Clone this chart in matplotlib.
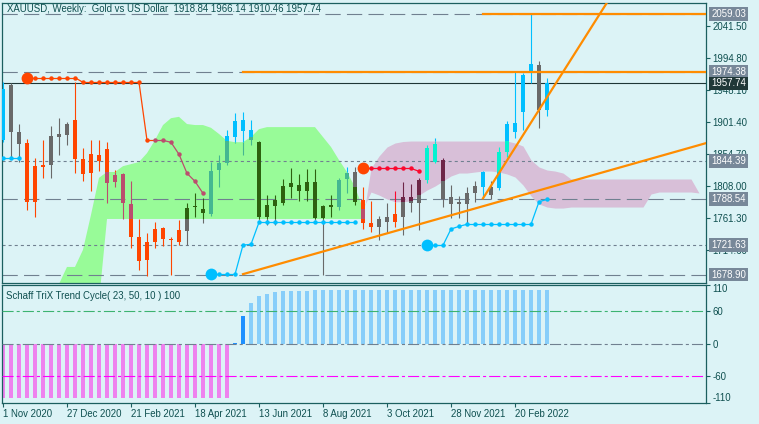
import numpy as np
import matplotlib.pyplot as plt
from matplotlib.transforms import blended_transform_factory

plt.rcParams['font.family'] = ['Liberation Sans', 'DejaVu Sans']
plt.rcParams['lines.scale_dashes'] = False

title = "XAUUSD, Weekly:  Gold vs US Dollar  1918.84 1966.14 1910.46 1957.74"
stc_title = "Schaff TriX Trend Cycle( 23, 50, 10 ) 100"

date_bars = [0, 8, 16, 24, 32, 40, 48, 56, 64]
date_labels = ["1 Nov 2020", "27 Dec 2020", "21 Feb 2021", "18 Apr 2021", "13 Jun 2021",
               "8 Aug 2021", "3 Oct 2021", "28 Nov 2021", "20 Feb 2022"]

# weekly candles, one per bar
opens = [1875.2, 1955.4, 1886.8, 1871.2, 1785.1, 1839.1, 1839.1, 1879.1, 1882.5, 1904.4,
         1847.9, 1827.4, 1853.3, 1862.0, 1814.3, 1825.5, 1781.8, 1734.1, 1700.1, 1726.3,
         1746.7, 1730.7, 1726.8, 1742.8, 1776.9, 1774.5, 1767.2, 1831.4, 1841.6, 1880.0,
         1888.7, 1875.2, 1872.7, 1763.5, 1778.8, 1783.7, 1806.1, 1809.5, 1801.2, 1814.3,
         1760.9, 1780.3, 1777.8, 1817.8, 1828.9, 1787.6, 1754.5, 1748.6, 1755.9, 1767.2,
         1763.2, 1792.4, 1782.8, 1816.8, 1843.5, 1846.0, 1781.8, 1785.1, 1781.8, 1798.2,
         1807.0, 1806.6, 1804.7, 1858.1, 1887.3, 1916.4, 1972.5, 1984.6, 1918.84]
highs = [1960.0, 1957.9, 1898.5, 1876.6, 1849.3, 1875.2, 1895.6, 1906.8, 1901.9, 1960.2,
         1863.5, 1875.2, 1875.2, 1872.2, 1831.4, 1827.0, 1815.3, 1759.9, 1739.0, 1755.5,
         1749.0, 1734.1, 1758.4, 1782.8, 1797.4, 1790.1, 1843.5, 1853.3, 1889.7, 1914.1,
         1916.0, 1904.4, 1874.2, 1794.9, 1794.9, 1817.8, 1833.8, 1825.5, 1832.4, 1832.4,
         1779.9, 1794.9, 1819.7, 1835.3, 1835.7, 1807.0, 1786.2, 1764.3, 1782.8, 1801.2,
         1814.3, 1810.9, 1819.7, 1867.9, 1877.7, 1848.4, 1809.5, 1793.4, 1807.0, 1815.3,
         1830.6, 1815.3, 1865.4, 1903.3, 1974.4, 1972.9, 2059.03, 1990.4, 1966.14]
lows = [1872.0, 1848.9, 1843.0, 1773.0, 1762.4, 1819.3, 1819.3, 1853.3, 1867.9, 1827.4,
        1815.8, 1801.2, 1830.3, 1783.7, 1807.0, 1759.4, 1717.1, 1685.5, 1676.5, 1717.1,
        1720.9, 1677.7, 1721.9, 1721.9, 1763.2, 1754.5, 1764.3, 1807.0, 1838.7, 1870.8,
        1853.3, 1867.9, 1758.4, 1751.1, 1751.1, 1780.3, 1790.1, 1786.6, 1786.6, 1758.4,
        1678.9, 1763.2, 1773.0, 1797.4, 1780.3, 1744.9, 1740.9, 1729.2, 1739.5, 1748.6,
        1736.5, 1770.5, 1743.8, 1812.0, 1841.1, 1777.8, 1760.9, 1760.9, 1751.1, 1785.1,
        1790.1, 1788.6, 1802.2, 1850.8, 1877.7, 1889.7, 1957.9, 1893.1, 1910.46]
closes = [1949.6, 1887.3, 1869.3, 1785.1, 1837.6, 1836.2, 1881.0, 1883.9, 1898.5, 1847.0,
          1826.0, 1854.7, 1844.1, 1812.8, 1823.6, 1783.7, 1734.1, 1699.0, 1726.3, 1745.3,
          1730.7, 1729.2, 1743.8, 1775.9, 1777.8, 1768.2, 1829.9, 1842.3, 1881.0, 1902.9,
          1904.4, 1889.7, 1762.4, 1780.3, 1787.6, 1808.0, 1812.8, 1801.2, 1813.4, 1760.9,
          1778.8, 1776.9, 1816.8, 1827.4, 1785.1, 1753.6, 1748.6, 1759.9, 1763.2, 1755.9,
          1792.4, 1782.8, 1816.8, 1863.0, 1869.3, 1788.6, 1792.4, 1781.3, 1798.2, 1808.0,
          1828.9, 1794.9, 1858.1, 1898.5, 1900.4, 1970.0, 1986.0, 1918.9, 1957.74]
# candle colour state: c = blue, g = grey, r = red
trend = ("c g g r r r g g g r "
         "r r r r r r r r r r "
         "r r r g g g c c c c "
         "c c g g g g g g g g "
         "g g c c g r r g g r "
         "g g g c c g g g g g "
         "c g c c c c c g c").split()

# ichimoku cloud spans from bar 7 to bar 87
cloud_start = 7
span_a = [1665, 1690, 1690, 1715, 1766, 1820, 1828.5, 1828.5, 1837, 1840,
          1843, 1856, 1875, 1897, 1907, 1909, 1898.5, 1897, 1897, 1893,
          1884, 1874, 1872, 1872, 1879.5, 1891, 1894, 1894, 1894, 1894,
          1894, 1894, 1894, 1879.5, 1865, 1846, 1828.5, 1806.6, 1775,
          1799.3, 1794.9, 1789.1, 1785.1, 1785.1, 1786.2, 1794.9, 1802.2, 1808.0, 1815.3,
          1822.7, 1827.0, 1827.0, 1828.5, 1829.9, 1829.9, 1828.5, 1825.6, 1821.2, 1809.5,
          1793.5, 1781.8, 1777.4, 1775.9, 1775.9, 1777.4, 1777.4, 1777.4, 1777.4, 1777.4,
          1777.4, 1777.4, 1777.4, 1777.4, 1777.4, 1796.4, 1799.3, 1799.3, 1799.3, 1799.3,
          1799.3, 1797.9]
span_b = [1640, 1640, 1640, 1640, 1640, 1640, 1760, 1760, 1760, 1760,
          1760, 1760, 1760, 1760, 1760, 1760, 1760, 1760, 1760, 1760,
          1760, 1760, 1760, 1760, 1760, 1760, 1760, 1760, 1760, 1760,
          1760, 1760, 1760, 1760, 1760, 1760, 1760, 1760, 1760,
          1834.3, 1851.8, 1865.0, 1870.8, 1873.0, 1873.7, 1873.7, 1873.7, 1873.7, 1873.7,
          1873.7, 1873.7, 1873.7, 1873.7, 1873.7, 1873.7, 1873.7, 1873.7, 1870.8, 1866.4,
          1846.0, 1835.8, 1831.4, 1829.9, 1827.0, 1818.3, 1818.3, 1818.3, 1818.3, 1818.3,
          1818.3, 1818.3, 1818.3, 1818.3, 1818.3, 1818.3, 1818.3, 1818.3, 1818.3, 1818.3,
          1818.3, 1797.9]

# dotted trend-stop lines: (first bar, values)
red_dots = [(3, [1966.1, 1966.1, 1966.1, 1966.1, 1966.1, 1966.1, 1966.1,
                 1959.3, 1959.3, 1959.3, 1959.3, 1959.3, 1959.3, 1959.3, 1959.3,
                 1874.7, 1874.7, 1874.7, 1871.8, 1854.3, 1826.6, 1814.9, 1797.4]),
            (45, [1833.8, 1833.8, 1833.8, 1833.8, 1833.8, 1833.8, 1833.8, 1829.5])]
blue_dots = [(0, [1848.4, 1848.4, 1848.4]),
             (26, [1679.2, 1679.2, 1679.2, 1679.2, 1721.9, 1723.0,
                   1755.1, 1755.1, 1755.1, 1755.1, 1755.1, 1755.1, 1755.1,
                   1755.1, 1755.1, 1755.1, 1755.1, 1755.1, 1755.1]),
             (53, [1721.6, 1721.6, 1721.6, 1745.3, 1749.2, 1752.2, 1752.2, 1752.2,
                   1752.2, 1752.2, 1752.2, 1752.2, 1752.2, 1752.2, 1785.1, 1788.5])]

stc = [-100, -100, -100, -100, -100, -100, -100, -100, -100, -100,
       -100, -100, -100, -100, -100, -100, -100, -100, -100, -100,
       -100, -100, -100, -100, -100, -100, -100, -100, -100, 2,
       51, 75, 88, 93, 97, 98.5, 98.5, 98.5, 98.5, 100,
       100, 100, 100, 100, 100, 100, 100, 100, 100, 100,
       100, 100, 100, 100, 100, 100, 100, 100, 100, 100,
       100, 100, 100, 100, 100, 100, 100, 100, 100]

dash_levels = [2059.03, 1974.38, 1788.54, 1678.90]
dot_levels = [1844.39, 1721.63]
bid = 1957.74
orange_levels = [(60, 2059.03), (30, 1974.38)]
trendlines = [((30, 1679.5), (68, 1805.0)), ((60, 1790.1), (68, 1937.5))]
price_ticks = [2041.5, 1994.8, 1948.1, 1901.4, 1854.7, 1808.0, 1761.3, 1714.6]

bg = '#DCF3F6'
frame = '#1B5F5F'
txt = '#0E4F4F'
fs = 6.9
base_col = {'c': '#00BFFF', 'g': '#696969', 'r': '#FF4500'}
mix_col = {'green': {'c': '#44B791', 'g': '#2D610F', 'r': '#BB4D6E'},
           'pink': {'c': '#04F3D1', 'g': '#6D2547', 'r': '#FB092E'}}

W, H = 759, 424
fig = plt.figure(figsize=(W / 100, H / 100), dpi=100)
fig.patch.set_facecolor(bg)


def px_axes(x0, y0, x1, y1):
    return fig.add_axes([x0 / W, 1 - y1 / H, (x1 - x0) / W, (y1 - y0) / H])


ax = px_axes(2, 2.5, 706, 282.5)
ax2 = px_axes(2, 284.5, 706, 403)
for a in (ax, ax2):
    a.set_facecolor(bg)
    a.set_xlim(-0.125, 87.875)
    for s in a.spines.values():
        s.set_color(frame)
        s.set_linewidth(0.9)
ax.set_ylim(1667.3, 2075.8)
ax2.set_ylim(-110, 110)

# cloud
A = np.array(span_a, dtype=float)
B = np.array(span_b, dtype=float)
cx = np.arange(cloud_start, cloud_start + len(A))
ax.fill_between(cx, A, B, where=A >= B, interpolate=True, color='#98FB98', lw=0, zorder=1)
ax.fill_between(cx, A, B, where=B > A, interpolate=True, color='#D8BFD8', lw=0, zorder=1)


def cloud_at(x):
    if x < cx[0] or x > cx[-1]:
        return None
    a = np.interp(x, cx, A)
    b = np.interp(x, cx, B)
    return min(a, b), max(a, b), ('green' if a >= b else 'pink')


def colour_for(x, p, code):
    cl = cloud_at(x)
    if cl and cl[0] <= p <= cl[1]:
        return mix_col[cl[2]][code]
    return base_col[code]


def parts(i, lo, hi, code):
    cl = cloud_at(i)
    cuts = [lo, hi]
    if cl:
        cuts += [v for v in cl[:2] if lo < v < hi]
    cuts = sorted(cuts)
    return [(s, e, colour_for(i, (s + e) / 2, code)) for s, e in zip(cuts[:-1], cuts[1:])]


# level lines
for lv in dash_levels:
    ax.axhline(lv, color='#708090', lw=0.8, dashes=(11, 4.5), zorder=1.5)
for lv in dot_levels:
    ax.axhline(lv, color='#708090', lw=0.8, dashes=(2.2, 2.2), zorder=1.5)
ax.axhline(bid, color='#1E3636', lw=0.8, zorder=1.5)

# candles
for i in range(len(opens)):
    code = trend[i]
    for s, e, c in parts(i, lows[i], highs[i], code):
        ax.vlines(i, s, e, colors=c, lw=0.8, zorder=3)
    b0, b1 = sorted([opens[i], closes[i]])
    if b1 - b0 < 1.3:
        b1 = b0 + 1.3
    for s, e, c in parts(i, b0, b1, code):
        ax.bar(i, e - s, bottom=s, width=0.6, color=c, lw=0, zorder=3.2)

# dotted stop lines
for segs, code, mix in ((red_dots, 'r', True), (blue_dots, 'c', False)):
    for start, vals in segs:
        xs = np.arange(start, start + len(vals))
        for k in range(len(vals) - 1):
            xm, pm = (xs[k] + xs[k + 1]) / 2, (vals[k] + vals[k + 1]) / 2
            c = colour_for(xm, pm, code) if mix else base_col[code]
            ax.plot(xs[k:k + 2], vals[k:k + 2], color=c, lw=0.9, zorder=4)
        for x, v in zip(xs, vals):
            c = colour_for(x, v, code) if mix else base_col[code]
            ax.plot(x, v, 'o', color=c, ms=3.2, mew=0, zorder=4.2)
        if start > 0:
            ax.plot(xs[0], vals[0], 'o', color=base_col[code], ms=8.5, mew=0, zorder=4.3)

# orange objects
for b, lv in orange_levels:
    ax.plot([b, 100], [lv, lv], color='#FF8C00', lw=1.6, zorder=5)
for (b0, p0), (b1, p1) in trendlines:
    slope = (p1 - p0) / (b1 - b0)
    ax.plot([b0, 100], [p0, p0 + slope * (100 - b0)], color='#FF8C00', lw=1.6, zorder=5)

# price axis
ax.yaxis.tick_right()
ax.set_yticks(price_ticks)
ax.set_yticklabels([f'{v:.2f}' for v in price_ticks])
ax.tick_params(axis='y', direction='out', length=3, width=0.8, colors=frame,
               labelcolor=txt, labelsize=fs, pad=1.5)
ax.tick_params(axis='x', bottom=False, labelbottom=False)

tr = blended_transform_factory(ax.transAxes, ax.transData)
boxes = [(2059.03, '#778899'), (1974.38, '#778899'), (1957.74, '#203838'),
         (1844.39, '#778899'), (1788.54, '#778899'), (1721.63, '#778899'),
         (1678.90, '#778899')]
for v, c in boxes:
    ax.text(1.0075, v, f'{v:.2f}', transform=tr, ha='left', va='center', fontsize=fs,
            color='white', clip_on=False, zorder=10,
            bbox=dict(boxstyle='square,pad=0.2', fc=c, ec='none'))

ax.text(0.007, 0.975, title, transform=ax.transAxes, ha='left', va='center',
        fontsize=fs, color=txt, zorder=10)

# Schaff trend cycle pane
sx = np.arange(len(stc))
scol = ['#EE82EE' if v < 0 else ('#1E90FF' if v < 60 else '#87CEFA') for v in stc]
ax2.bar(sx, stc, width=0.5, color=scol, lw=0, zorder=2)
ax2.axhline(60, color='#3CB371', lw=0.8, dashes=(8, 2.2, 2.2, 2.2), zorder=3)
ax2.axhline(0, color='#708090', lw=0.8, dashes=(8, 2.2, 2.2, 2.2), zorder=3)
ax2.axhline(-60, color='#FF00FF', lw=0.8, dashes=(8, 2.2, 2.2, 2.2), zorder=3)
ax2.text(0.006, 0.9, stc_title, transform=ax2.transAxes, ha='left', va='center',
         fontsize=fs, color=txt)

ax2.yaxis.tick_right()
ax2.set_yticks([110, 60, 0, -60, -110])
ax2.set_yticklabels(['110', '60', '0', '-60', '-110'])
ax2.tick_params(axis='y', direction='out', length=3, width=0.8, colors=frame,
                labelcolor=txt, labelsize=fs, pad=1.5)
yl = ax2.get_yticklabels()
yl[0].set_va('top')
yl[-1].set_va('bottom')

ax2.set_xticks(date_bars)
ax2.set_xticklabels(date_labels)
ax2.tick_params(axis='x', direction='out', length=3, width=0.8, colors=frame,
                labelcolor=txt, labelsize=fs, pad=1.5)
for lbl in ax2.get_xticklabels():
    lbl.set_ha('left')

fig.savefig('out.png', dpi=100, facecolor=bg)
